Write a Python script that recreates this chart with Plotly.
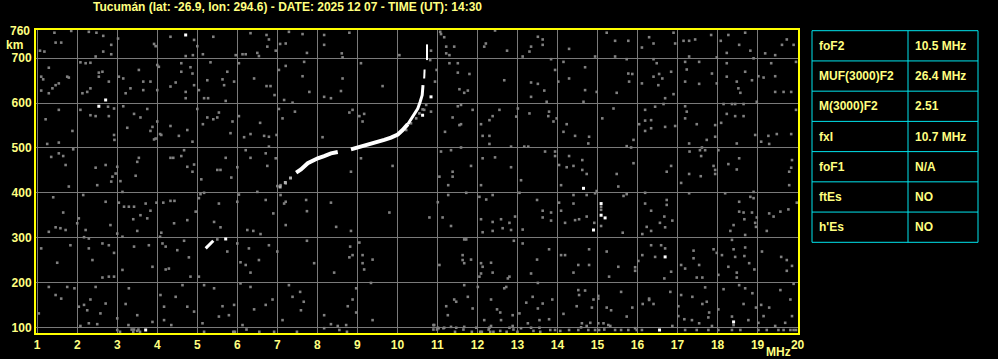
import plotly.graph_objects as go

W, H = 998, 359

title_text = "Tucumán (lat: -26.9, lon: 294.6) - DATE: 2025 12 07 - TIME (UT): 14:30"
x_ticks = list(range(1, 21))
y_ticks = [100, 200, 300, 400, 500, 600, 700]
y_top_label = 760

table_params = ["foF2", "MUF(3000)F2", "M(3000)F2", "fxI", "foF1", "ftEs", "h'Es"]
table_values = ["10.5 MHz", "26.4 MHz", "2.51", "10.7 MHz", "N/A", "NO", "NO"]

# F-layer ordinary trace (frequency MHz, virtual height km)
o_low_mhz = [7.47, 7.59, 7.76, 7.88, 8.01, 8.17, 8.34, 8.51, None, 8.84, 9.01, 9.17, 9.34, 9.51,
             9.67, 9.84, 10.01, 10.13, 10.26]
o_low_km = [445, 452, 466, 472, 477, 482, 488, 491, None, 497, 501, 504, 508, 512,
            518, 523, 530, 540, 553]
o_mid_mhz = [10.26, 10.36, 10.44, 10.51, 10.57, 10.62, 10.64]
o_mid_km = [553, 566, 577, 588, 603, 618, 640]
o_top_mhz = [10.67, 10.68, None, 10.74, 10.74]
o_top_km = [655, 675, None, 696, 731]
o_start_mhz = [7.07, 7.2, 7.33]
o_start_km = [413, 423, 433]

# E / lower echoes
e_mhz = [5.21, 5.27, 5.33, 5.40]
e_km = [276, 281, 287, 293]

# isolated strong echoes
white_echoes = [(5.71, 297), (4.71, 752), (2.71, 607), (2.54, 593), (3.71, 94), (14.65, 410),
                (15.09, 376), (15.09, 350), (15.19, 344), (14.9, 317), (16.69, 257), (18.4, 112),
                (16.55, 94), (10.63, 573), (10.84, 614)]

# extraordinary-trace traces (weak)
x_weak = [(10.22, 540), (10.34, 555), (10.47, 566), (10.55, 577), (10.67, 585), (10.72, 596),
          (5.5, 296), (10.84, 717), (10.82, 696)]

# weak background echoes
noise_echoes = [
    (1.43, 757), (1.6, 735), (1.46, 735), (1.18, 715), (1.85, 761), (2.29, 759), (2.48, 757), (2.65, 750),
    (2.85, 730), (2.65, 715), (2.46, 704), (2.85, 709), (3.02, 744), (3.92, 732), (3.96, 727), (4.33, 748),
    (4.92, 741), (5.0, 727), (4.71, 705), (4.89, 707), (5.14, 709), (5.4, 748), (5.96, 707), (6.13, 709),
    (6.21, 709), (6.33, 756), (6.73, 752), (6.79, 742), (6.75, 726), (6.5, 712), (6.54, 705), (6.96, 717),
    (7.07, 732), (7.21, 733), (7.29, 759), (1.07, 717),
    (1.29, 679), (1.1, 659), (1.15, 653), (1.1, 628), (1.29, 622), (1.38, 633), (1.46, 640), (1.54, 644),
    (1.75, 659), (1.79, 657), (2.08, 691), (2.21, 689), (2.33, 690), (2.54, 668), (2.63, 670), (2.54, 659),
    (2.13, 622), (2.25, 625), (2.33, 633), (2.79, 648), (3.04, 659), (3.15, 655), (3.21, 622), (3.33, 633),
    (3.54, 674), (3.65, 648), (3.83, 648), (3.65, 629), (4.0, 685), (4.04, 681), (4.0, 629), (4.33, 637),
    (4.46, 646), (4.6, 689), (4.6, 670), (4.71, 625), (4.71, 611), (4.83, 680), (4.88, 666), (4.92, 640),
    (5.04, 629), (5.17, 611), (5.27, 611), (5.25, 651), (5.33, 691), (5.63, 653), (5.67, 640), (5.71, 605),
    (5.75, 670), (5.92, 648), (6.04, 689), (6.42, 655), (6.73, 638), (6.83, 638), (6.93, 618), (7.04, 674),
    (7.17, 607), (7.21, 683), (2.77, 592), (2.92, 588),
    (1.21, 564), (1.54, 585), (1.88, 538), (2.08, 585), (2.33, 573), (2.46, 571), (2.79, 571), (2.92, 529),
    (2.93, 518), (3.15, 593), (3.25, 545), (3.42, 576), (3.58, 568), (3.75, 587), (3.83, 538), (3.88, 547),
    (3.92, 519), (3.96, 521), (4.0, 559), (4.07, 531), (4.1, 529), (4.33, 549), (4.54, 527), (4.75, 540),
    (4.88, 514), (5.0, 587), (5.14, 553), (5.25, 568), (5.4, 564), (5.5, 568), (5.54, 579), (5.83, 533),
    (5.88, 559), (6.04, 571), (6.17, 524), (6.33, 531), (6.57, 556), (6.67, 527), (6.79, 525), (6.79, 503),
    (6.98, 529), (7.04, 587), (7.13, 566), (1.54, 512), (1.25, 509),
    (1.35, 480), (1.54, 488), (1.65, 482), (1.71, 462), (1.79, 414), (1.9, 497), (2.46, 456), (2.5, 417),
    (2.71, 462), (2.85, 425), (2.88, 436), (3.0, 458), (2.96, 443), (3.08, 426), (3.13, 402), (3.46, 438),
    (3.5, 469), (3.54, 478), (4.33, 478), (4.4, 478), (4.6, 482), (4.67, 495), (4.75, 458), (4.92, 463),
    (4.88, 447), (5.1, 430), (5.17, 400), (5.5, 451), (5.58, 451), (5.71, 478), (5.85, 434), (6.0, 457),
    (6.04, 396), (6.21, 495), (6.33, 478), (6.71, 488), (6.75, 460), (6.96, 477), (7.0, 415), (7.08, 417),
    (7.21, 421),
    (1.4, 390), (1.65, 356), (1.71, 317), (1.58, 321), (1.46, 323), (1.29, 313), (2.0, 332), (2.15, 395),
    (2.04, 343), (2.21, 317), (2.29, 298), (2.71, 380), (2.83, 328), (3.04, 378), (3.17, 369), (3.29, 369),
    (3.42, 369), (3.5, 315), (3.4, 341), (3.58, 350), (3.71, 376), (3.75, 343), (3.83, 360), (3.98, 378),
    (4.1, 311), (4.15, 378), (4.33, 382), (4.43, 382), (4.42, 332), (4.75, 339), (4.96, 358), (5.04, 388),
    (5.08, 397), (5.42, 335), (5.54, 376), (5.58, 323), (6.0, 380), (6.25, 317), (6.4, 315), (6.5, 402),
    (6.58, 308), (6.71, 384), (6.9, 354), (7.08, 395), (7.21, 380), (7.17, 376), (7.21, 328),
    (1.1, 276), (1.5, 244), (1.83, 283), (2.17, 301), (2.29, 276), (2.38, 250), (2.63, 287), (2.79, 283),
    (2.92, 266), (2.63, 211), (2.79, 213), (2.92, 213), (3.0, 309), (3.13, 302), (3.42, 280), (3.79, 283),
    (3.88, 235), (4.07, 302), (4.13, 287), (4.21, 280), (4.21, 229), (4.29, 231), (4.5, 272), (4.67, 293),
    (4.83, 213), (4.79, 256), (5.04, 213), (5.75, 269), (6.0, 287), (6.08, 245), (6.21, 239), (6.29, 276),
    (6.33, 222), (6.54, 250), (6.79, 283), (7.0, 269), (3.13, 228),
    (1.29, 190), (1.46, 172), (1.6, 164), (1.75, 190), (1.93, 187), (2.04, 146), (2.17, 150), (2.25, 138),
    (2.29, 109), (2.33, 162), (2.46, 190), (2.71, 153), (2.58, 131), (3.0, 120), (3.29, 187), (3.21, 152),
    (3.5, 127), (3.88, 112), (4.08, 172), (4.17, 146), (4.35, 105), (4.46, 168), (4.63, 194), (4.75, 146),
    (4.92, 135), (5.13, 109), (5.17, 194), (5.42, 187), (5.63, 147), (5.54, 124), (5.79, 127), (5.92, 150),
    (6.08, 198), (6.13, 105), (6.33, 190), (6.42, 140), (6.71, 150), (6.88, 162), (7.13, 116), (7.29, 194),
    (1.04, 131), (2.08, 103), (2.5, 107), (3.0, 94), (3.42, 95), (3.5, 92), (4.17, 116),
    (3.07, 90), (3.36, 95), (3.4, 90), (3.53, 95), (3.57, 90), (3.28, 105), (5.17, 90), (5.9, 90),
    (5.94, 90), (6.23, 95), (6.55, 90), (6.92, 90), (7.49, 90), (8.74, 90), (10.9, 105), (10.9, 95),
    (10.99, 95), (11.03, 98), (11.15, 98), (11.44, 90), (11.65, 95), (11.86, 90), (12.07, 90), (12.11, 90),
    (12.28, 95), (12.32, 90), (12.4, 90), (12.57, 92), (12.73, 90), (12.9, 95), (13.0, 90), (13.4, 92),
    (13.57, 90),
    (7.63, 754), (8.17, 752), (8.8, 757), (7.74, 712), (8.61, 711), (8.63, 702), (8.17, 730), (7.67, 692),
    (9.09, 689), (10.05, 707), (11.07, 759), (11.09, 754), (11.17, 747), (11.22, 726), (11.42, 726),
    (11.22, 711), (11.3, 707), (12.17, 726), (12.21, 733), (12.74, 717), (13.13, 704), (13.34, 726),
    (13.3, 715), (13.51, 748), (13.63, 730), (13.63, 742), (12.44, 762),
    (7.63, 660), (7.8, 625), (8.59, 627), (8.63, 655), (8.17, 614), (8.34, 611), (7.38, 601), (9.63, 638),
    (10.94, 648), (10.98, 674), (11.51, 668), (11.55, 631), (11.67, 623), (11.76, 628), (11.8, 665),
    (11.51, 689), (11.3, 689), (12.67, 651), (13.34, 646), (13.51, 643), (13.67, 628), (13.34, 614),
    (11.51, 593), (11.59, 596), (11.88, 585),
    (7.44, 581), (8.88, 585), (9.05, 571), (9.13, 559), (9.17, 576), (8.8, 579), (10.63, 586), (10.84, 581),
    (11.38, 568), (11.55, 551), (11.59, 553), (12.09, 553), (12.3, 562), (12.55, 585), (12.38, 571),
    (12.97, 570), (13.3, 577), (13.01, 588), (8.13, 524), (8.84, 447), (9.09, 477), (9.88, 460),
    (11.19, 536), (12.13, 527), (12.3, 527), (12.3, 509), (12.84, 503), (13.17, 503), (13.27, 503),
    (12.13, 477), (12.44, 479), (12.84, 457), (13.09, 428), (13.05, 400), (11.05, 436), (11.27, 417),
    (11.38, 447), (11.38, 436), (11.84, 460), (12.09, 417), (11.09, 492), (11.34, 495), (11.59, 501),
    (7.72, 384), (7.74, 359), (8.34, 378), (8.47, 324), (8.84, 315), (9.8, 356), (10.8, 345), (11.01, 379),
    (11.13, 345), (11.27, 395), (11.34, 326), (11.72, 400), (12.05, 391), (12.09, 341), (12.13, 312),
    (12.22, 385), (12.38, 395), (12.38, 335), (12.38, 315), (12.59, 341), (12.63, 321), (12.8, 333),
    (12.84, 317), (12.94, 347), (13.13, 318), (13.49, 384), (13.63, 360), (13.63, 345),
    (7.74, 293), (8.82, 280), (8.88, 261), (8.8, 256), (9.05, 289), (9.13, 261), (9.13, 243), (9.17, 229),
    (9.38, 251), (8.42, 222), (7.92, 243), (11.05, 239), (11.67, 296), (11.72, 296), (11.63, 261),
    (11.63, 250), (11.84, 251), (11.67, 243), (12.09, 243), (12.13, 235), (12.34, 244), (12.38, 222),
    (12.8, 213), (12.76, 209), (12.91, 293), (13.13, 287), (13.34, 220), (13.49, 251), (13.51, 199),
    (12.05, 213), (12.09, 220),
    (7.38, 168), (7.57, 179), (7.59, 138), (7.66, 157), (8.17, 127), (8.34, 107), (8.51, 103), (8.72, 105),
    (8.76, 147), (8.88, 162), (8.97, 187), (8.97, 133), (9.38, 116), (9.34, 199), (11.22, 147),
    (11.26, 127), (11.42, 162), (11.47, 157), (11.67, 194), (11.76, 168), (11.88, 142), (12.01, 190),
    (12.34, 162), (12.49, 140), (12.57, 133), (12.67, 187), (12.72, 190), (12.88, 127), (13.05, 131),
    (13.22, 155), (13.26, 109), (13.38, 168), (13.51, 142), (13.55, 116), (13.63, 153), (12.17, 116),
    (12.34, 103), (12.59, 116), (12.88, 103), (13.09, 98), (10.92, 105), (11.01, 99), (11.17, 99),
    (11.34, 101), (11.47, 99), (11.67, 101), (11.97, 99), (12.3, 99), (12.8, 99), (13.34, 99),
    (13.55, 99), (8.17, 98), (8.55, 94),
    (14.29, 721), (15.23, 757), (15.44, 739), (15.77, 739), (16.11, 724), (16.29, 747), (16.4, 733),
    (16.9, 757), (16.94, 733), (17.15, 739), (17.29, 739), (17.44, 742), (17.84, 752), (18.08, 739),
    (18.27, 752), (18.54, 730), (18.69, 757), (18.82, 717), (18.23, 712), (19.19, 711), (19.44, 707),
    (19.61, 730), (19.73, 742), (19.9, 730), (14.94, 704), (15.44, 704), (15.73, 698), (16.4, 698),
    (17.29, 704), (17.98, 702), (18.9, 700), (13.84, 698),
    (14.15, 692), (13.94, 674), (14.02, 648), (14.29, 655), (14.69, 680), (14.69, 629), (14.98, 625),
    (15.48, 623), (15.77, 666), (15.87, 665), (15.79, 648), (16.11, 644), (16.4, 659), (16.48, 689),
    (16.52, 640), (16.62, 655), (16.54, 665), (16.84, 670), (16.9, 620), (16.69, 611), (17.23, 675),
    (17.19, 648), (17.19, 692), (17.54, 692), (17.54, 643), (17.86, 666), (17.98, 644), (18.23, 659),
    (18.23, 689), (18.48, 648), (18.52, 633), (18.57, 623), (18.69, 670), (18.86, 651), (19.02, 660),
    (19.15, 657), (19.34, 689), (19.44, 660), (19.44, 625), (19.65, 625), (19.84, 625), (19.96, 692),
    (13.73, 603), (14.65, 603), (16.65, 598), (18.15, 598), (18.36, 598), (18.44, 598), (18.65, 598),
    (18.98, 603),
    (13.79, 581), (13.77, 571), (13.9, 559), (13.98, 566), (14.23, 553), (14.15, 536), (14.44, 527),
    (14.79, 525), (14.77, 510), (15.12, 566), (15.4, 588), (15.9, 518), (15.73, 504), (15.84, 501),
    (16.04, 553), (16.19, 585), (16.19, 561), (16.19, 538), (16.34, 562), (16.34, 544), (16.44, 592),
    (16.69, 547), (16.94, 549), (17.19, 593), (17.23, 581), (17.19, 566), (17.48, 553), (17.73, 518),
    (17.94, 551), (17.94, 525), (18.09, 556), (18.23, 576), (18.44, 571), (18.65, 571), (18.94, 529),
    (19.09, 514), (19.27, 527), (19.29, 509), (19.48, 531), (19.84, 531), (19.96, 585), (18.48, 510),
    (17.61, 501), (17.56, 495), (17.29, 510), (17.3, 492), (18.02, 495),
    (13.69, 492), (13.94, 492), (13.94, 482), (14.04, 462), (14.23, 457), (14.29, 482), (14.4, 460),
    (14.62, 473), (14.62, 451), (14.73, 442), (14.98, 404), (14.09, 417), (15.52, 414), (15.48, 442),
    (15.9, 466), (16.84, 460), (16.73, 447), (17.09, 422), (17.29, 442), (17.58, 437), (17.9, 460),
    (17.94, 451), (17.94, 442), (18.27, 464), (18.48, 452), (18.54, 477), (19.86, 473), (19.84, 456),
    (19.79, 447), (19.79, 417), (17.59, 482), (17.69, 495),
    (14.4, 395), (14.73, 395), (14.04, 378), (14.4, 376), (13.84, 356), (13.84, 338), (14.09, 360),
    (14.19, 333), (14.44, 339), (14.54, 341), (14.73, 347), (14.92, 333), (15.09, 326), (15.09, 369),
    (15.09, 362), (14.94, 399), (15.65, 393), (15.73, 397), (15.63, 311), (16.19, 400), (16.19, 376),
    (16.34, 360), (16.56, 333), (16.67, 347), (16.73, 384), (16.73, 373), (16.87, 338), (16.23, 324),
    (16.34, 315), (16.12, 308), (16.69, 323), (17.29, 399), (18.19, 399), (18.54, 380), (18.54, 358),
    (18.82, 391), (18.9, 388), (18.9, 402), (18.65, 356), (18.67, 341), (18.98, 345), (18.94, 333),
    (18.96, 324), (18.86, 356), (18.32, 315), (18.4, 328), (18.69, 306), (19.23, 315), (19.29, 354),
    (19.4, 347), (19.57, 358), (19.77, 363), (19.98, 378),
    (13.79, 274), (14.09, 261), (14.19, 261), (14.52, 239), (14.79, 274), (14.79, 239), (14.4, 222),
    (15.23, 269), (15.52, 235), (15.29, 213), (15.94, 234), (15.94, 226), (16.02, 248), (16.12, 261),
    (16.34, 283), (16.44, 257), (16.59, 283), (16.69, 276), (16.67, 209), (16.84, 224), (17.09, 239),
    (17.19, 231), (17.4, 271), (17.4, 254), (17.54, 239), (17.48, 211), (17.62, 211), (17.9, 274),
    (17.98, 266), (18.02, 217), (18.11, 261), (18.36, 295), (18.4, 274), (18.44, 257), (18.27, 235),
    (18.48, 222), (18.48, 211), (18.69, 278), (18.67, 259), (18.79, 243), (18.92, 229), (19.11, 269),
    (19.59, 257), (19.73, 250), (19.73, 226), (19.86, 237),
    (14.52, 183), (14.54, 172), (14.69, 182), (13.87, 162), (15.02, 170), (15.02, 164), (14.9, 162),
    (15.59, 179), (14.48, 147), (14.86, 144), (15.23, 144), (15.34, 138), (15.87, 144), (16.13, 152),
    (16.29, 164), (16.29, 161), (16.4, 152), (16.82, 179), (17.09, 172), (17.02, 147), (17.37, 168),
    (17.62, 152), (17.73, 157), (17.79, 133), (17.69, 189), (18.15, 185), (18.02, 140), (18.54, 194),
    (18.69, 187), (18.65, 152), (18.87, 176), (18.96, 144), (19.09, 150), (19.29, 144), (19.57, 183),
    (19.82, 162), (19.9, 197), (13.79, 118), (14.15, 130), (14.61, 109), (14.82, 110), (15.02, 109),
    (15.15, 109), (15.27, 105), (15.73, 124), (15.94, 98), (17.02, 125), (17.17, 118), (17.36, 116),
    (17.54, 109), (17.77, 122), (17.86, 103), (18.36, 124), (18.4, 105), (18.77, 116), (19.02, 110),
    (19.15, 125), (19.44, 103), (19.69, 110), (19.86, 125),
    (13.82, 94), (13.94, 94), (14.07, 92), (14.29, 94), (14.52, 94), (14.59, 100), (14.73, 103),
    (14.77, 94), (14.94, 94), (15.04, 94), (15.17, 95), (15.32, 103), (15.44, 94), (15.59, 94),
    (15.77, 94), (15.98, 94), (16.11, 94), (16.87, 103), (17.19, 94), (17.48, 94), (17.77, 94),
    (18.02, 94), (18.36, 94), (18.57, 94), (19.02, 94), (19.23, 94), (19.52, 94), (19.65, 94),
    (19.82, 94), (19.9, 94), (19.96, 94),
]

# ---------------- styling / layout constants ----------------
BG = "#000000"
TEXT = "#FFFF80"
BORDER = "#FFFF00"
GRID = "#7a7a7a"
CYAN = "#00E5EE"
NOISE = "#808080"
FONT = "Liberation Sans, Arial, sans-serif"

plot_l, plot_r, plot_t, plot_b = 36, 798, 30, 333

def px_x(px):
    return px / W

def px_y(py):
    return 1 - py / H

fig = go.Figure()

noise_mhz = [p[0] for p in noise_echoes]
noise_km = [p[1] for p in noise_echoes]
dot_marker = dict(symbol="square", size=2.6, color=NOISE, line=dict(width=0))
fig.add_trace(go.Scatter(x=noise_mhz, y=noise_km, mode="markers", marker=dot_marker,
                         hoverinfo="skip", showlegend=False))
fig.add_trace(go.Scatter(x=[p[0] for p in x_weak], y=[p[1] for p in x_weak], mode="markers",
                         marker=dot_marker, hoverinfo="skip", showlegend=False))
fig.add_trace(go.Scatter(x=o_start_mhz, y=o_start_km, mode="markers",
                         marker=dict(symbol="square", size=3, color="#b0b0b0", line=dict(width=0)),
                         hoverinfo="skip", showlegend=False))
fig.add_trace(go.Scatter(x=o_low_mhz, y=o_low_km, mode="lines",
                         line=dict(color="white", width=4), hoverinfo="skip", showlegend=False))
fig.add_trace(go.Scatter(x=o_mid_mhz, y=o_mid_km, mode="lines",
                         line=dict(color="white", width=3), hoverinfo="skip", showlegend=False))
fig.add_trace(go.Scatter(x=o_top_mhz, y=o_top_km, mode="lines",
                         line=dict(color="white", width=2), hoverinfo="skip", showlegend=False))
fig.add_trace(go.Scatter(x=e_mhz, y=e_km, mode="lines",
                         line=dict(color="white", width=3), hoverinfo="skip", showlegend=False))
fig.add_trace(go.Scatter(x=[p[0] for p in white_echoes], y=[p[1] for p in white_echoes], mode="markers",
                         marker=dict(symbol="square", size=3, color="white", line=dict(width=0)),
                         hoverinfo="skip", showlegend=False))

fig.update_layout(
    width=W, height=H,
    margin=dict(l=0, r=0, t=0, b=0),
    paper_bgcolor=BG, plot_bgcolor=BG,
    font=dict(family=FONT, size=12, color=TEXT, weight="bold"),
    xaxis=dict(domain=[px_x(plot_l), px_x(plot_r)], range=[0.97, 20.01],
               tickvals=x_ticks, ticktext=[str(v) for v in x_ticks],
               showgrid=True, gridcolor=GRID, gridwidth=1, zeroline=False,
               showline=True, linecolor=BORDER, linewidth=2, mirror=True,
               ticks="", automargin=False, fixedrange=True,
               tickfont=dict(family=FONT, size=12, color=TEXT, weight="bold")),
    yaxis=dict(domain=[px_y(plot_b), px_y(plot_t)], range=[87.3, 763.1],
               tickvals=y_ticks, ticktext=[str(v) for v in y_ticks],
               showgrid=True, gridcolor=GRID, gridwidth=1, zeroline=False,
               showline=True, linecolor=BORDER, linewidth=2, mirror=True,
               ticks="", automargin=False, fixedrange=True,
               tickfont=dict(family=FONT, size=12, color=TEXT, weight="bold")),
)

annotations = [
    dict(text=title_text, x=px_x(91), y=px_y(7), xref="paper", yref="paper",
         xanchor="left", yanchor="middle", showarrow=False),
    dict(text=str(y_top_label), x=px_x(32), y=y_top_label, xref="paper", yref="y",
         xanchor="right", yanchor="middle", showarrow=False),
    dict(text="km", x=px_x(14), y=px_y(45), xref="paper", yref="paper",
         xanchor="center", yanchor="middle", showarrow=False),
    dict(text="MHz", x=px_x(778), y=px_y(352), xref="paper", yref="paper",
         xanchor="center", yanchor="middle", showarrow=False),
]

shapes = []
tab_l, tab_r, tab_m = 812, 978, 908
tab_t, tab_b = 30.7, 242.3
row_h = (tab_b - tab_t) / len(table_params)
shapes.append(dict(type="rect", xref="paper", yref="paper",
                   x0=px_x(tab_l), x1=px_x(tab_r), y0=px_y(tab_b), y1=px_y(tab_t),
                   line=dict(color=CYAN, width=1), fillcolor="rgba(0,0,0,0)", layer="above"))
shapes.append(dict(type="line", xref="paper", yref="paper",
                   x0=px_x(tab_m), x1=px_x(tab_m), y0=px_y(tab_b), y1=px_y(tab_t),
                   line=dict(color=CYAN, width=1)))
for i, (name, val) in enumerate(zip(table_params, table_values)):
    y_top = tab_t + i * row_h
    if i > 0:
        shapes.append(dict(type="line", xref="paper", yref="paper",
                           x0=px_x(tab_l), x1=px_x(tab_r), y0=px_y(y_top), y1=px_y(y_top),
                           line=dict(color=CYAN, width=1)))
    yc = px_y(y_top + row_h / 2)
    annotations.append(dict(text=name, x=px_x(tab_l + 5), y=yc, xref="paper", yref="paper",
                            xanchor="left", yanchor="middle", showarrow=False))
    annotations.append(dict(text=val, x=px_x(tab_m + 5), y=yc, xref="paper", yref="paper",
                            xanchor="left", yanchor="middle", showarrow=False))

fig.update_layout(annotations=annotations, shapes=shapes)

fig.write_html("out.html")
